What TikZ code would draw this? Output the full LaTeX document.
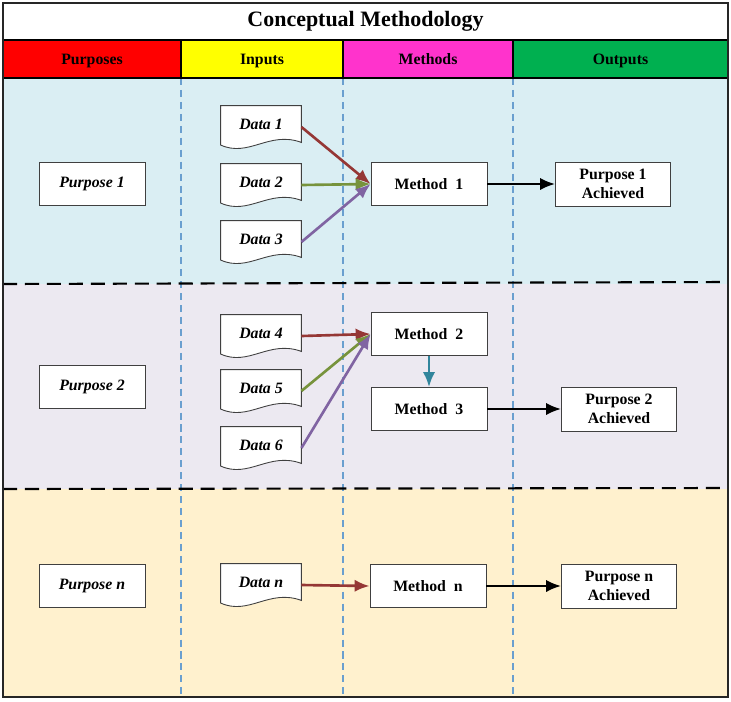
\documentclass[tikz,border=0pt]{standalone}
\usepackage{fontspec}
\setmainfont{Liberation Serif}
\usetikzlibrary{arrows.meta}

\definecolor{hdrred}{HTML}{FF0000}
\definecolor{hdryellow}{HTML}{FFFF00}
\definecolor{hdrpink}{HTML}{FF33CC}
\definecolor{hdrgreen}{HTML}{00B050}
\definecolor{bandblue}{HTML}{DAEEF3}
\definecolor{bandlilac}{HTML}{ECE9F1}
\definecolor{bandsand}{HTML}{FFF1CE}
\definecolor{arrbrown}{HTML}{953735}
\definecolor{arrgreen}{HTML}{77933C}
\definecolor{arrpurple}{HTML}{8064A2}
\definecolor{arrteal}{HTML}{31859C}
\definecolor{colline}{HTML}{6A9FCF}

\makeatletter
\pgfdeclareshape{datadoc}{%
  \inheritsavedanchors[from=rectangle]
  \inheritanchorborder[from=rectangle]
  \inheritanchor[from=rectangle]{center}
  \inheritanchor[from=rectangle]{north}
  \inheritanchor[from=rectangle]{south}
  \inheritanchor[from=rectangle]{east}
  \inheritanchor[from=rectangle]{west}
  \inheritanchor[from=rectangle]{north east}
  \inheritanchor[from=rectangle]{north west}
  \inheritanchor[from=rectangle]{south east}
  \inheritanchor[from=rectangle]{south west}
  \inheritanchor[from=rectangle]{mid}
  \inheritanchor[from=rectangle]{base}
  \inheritanchor[from=rectangle]{text}
  \backgroundpath{%
    \southwest \pgf@xa=\pgf@x \pgf@ya=\pgf@y
    \northeast \pgf@xb=\pgf@x \pgf@yb=\pgf@y
    \edef\dd@l{\the\pgf@xa}\edef\dd@r{\the\pgf@xb}%
    \edef\dd@b{\the\pgf@ya}\edef\dd@t{\the\pgf@yb}%
    \pgfmathsetlengthmacro\dd@h{\dd@t-\dd@b}%
    \pgfmathsetlengthmacro\dd@w{\dd@r-\dd@l}%
    \pgfmathsetlengthmacro\dd@xa{\dd@l+0.6*\dd@w}%
    \pgfmathsetlengthmacro\dd@xb{\dd@l+0.35*\dd@w}%
    \pgfmathsetlengthmacro\dd@yr{\dd@t-0.86*\dd@h}%
    \pgfmathsetlengthmacro\dd@ya{\dd@t-0.58*\dd@h}%
    \pgfmathsetlengthmacro\dd@yb{\dd@t-1.22*\dd@h}%
    \pgfmathsetlengthmacro\dd@yl{\dd@t-0.92*\dd@h}%
    \pgfpathmoveto{\pgfqpoint{\dd@l}{\dd@t}}%
    \pgfpathlineto{\pgfqpoint{\dd@r}{\dd@t}}%
    \pgfpathlineto{\pgfqpoint{\dd@r}{\dd@yr}}%
    \pgfpathcurveto{\pgfqpoint{\dd@xa}{\dd@ya}}{\pgfqpoint{\dd@xb}{\dd@yb}}{\pgfqpoint{\dd@l}{\dd@yl}}%
    \pgfpathclose
  }%
}
\makeatother

\newcommand{\boxfont}{\fontsize{9}{10.5}\selectfont\bfseries}

\begin{document}
\begin{tikzpicture}[x=0.02cm,y=-0.02cm,
    box/.style={draw=black!75,fill=white,line width=0.5pt,minimum height=0.86cm,inner sep=1pt,font=\boxfont},
    purp/.style={box,minimum width=2.12cm,font=\boxfont\itshape},
    meth/.style={box,minimum width=2.32cm},
    done/.style={box,minimum width=2.3cm,minimum height=0.88cm,align=center},
    doc/.style={shape=datadoc,draw=black!75,fill=white,line width=0.5pt,minimum width=1.6cm,minimum height=0.84cm,inner sep=0pt,text depth=3.5pt,font=\boxfont\itshape},
    hdr/.style={draw=black,line width=0.6pt,inner sep=0pt,font=\boxfont},
    flow/.style={-{Latex[length=8.5pt,width=7pt]},line width=1.5pt},
    sep/.style={line width=1.2pt,dash pattern=on 8pt off 4.5pt},
    colsep/.style={colline,line width=0.6pt,dash pattern=on 4pt off 2.8pt}]
    \useasboundingbox (0,0) rectangle (731,701);

    \fill[bandblue] (3,78) rectangle (728,284);
    \fill[bandlilac] (3,284) rectangle (728,489);
    \fill[bandsand] (3,489) rectangle (728,697);
    \foreach \x in {181,343,513}
        \draw[colsep] (\x,78) -- (\x,697);
    \draw[sep] (3,284) -- (728,282);
    \draw[sep] (3,489) -- (728,488);

    \node[hdr,minimum width=14.5cm,minimum height=0.74cm,font=\fontsize{12.5}{14}\selectfont\bfseries] (title) at (365.5,21.5) {Conceptual Methodology};
    \foreach \n/\a/\b/\c/\t in {pu/3/181/hdrred/Purposes,in/181/343/hdryellow/Inputs,me/343/513/hdrpink/Methods,ou/513/728/hdrgreen/Outputs}
        \node[hdr,fill=\c,minimum width=(\b-\a)*0.02cm,minimum height=0.76cm,text depth=0pt] (\n) at ({(\a+\b)/2},59) {\t};
    \draw[line width=1pt,black!85] (3,3) rectangle (728,697);

    \node[purp] (p1) at (92,184) {Purpose 1};
    \node[purp] (p2) at (92,387) {Purpose 2};
    \node[purp] (pn) at (92,586) {Purpose \textit{n}};

    \foreach \i/\y in {1/127,2/185,3/242,4/336,5/391,6/448}
        \node[doc] (d\i) at (261,\y) {Data \i};
    \node[doc] (dn) at (261,585) {Data \textit{n}};

    \node[meth] (m1) at (429,184) {Method\ \ 1};
    \node[meth] (m2) at (429,334) {Method\ \ 2};
    \node[meth] (m3) at (429,409) {Method\ \ 3};
    \node[meth] (mn) at (428,586) {Method\ \ n};

    \node[done] (a1) at (613,184) {Purpose 1\\Achieved};
    \node[done] (a2) at (619,409) {Purpose 2\\Achieved};
    \node[done] (an) at (619,586) {Purpose n\\Achieved};

    \foreach \i/\c in {1/arrbrown,2/arrgreen,3/arrpurple}
        \draw[flow,\c] (d\i.east) -- (m1.west);
    \foreach \i/\c in {4/arrbrown,5/arrgreen,6/arrpurple}
        \draw[flow,\c] (d\i.east) -- (m2.west);
    \draw[flow,arrbrown] (dn.east) -- (mn.west);
    \draw[flow,arrteal] (m2.south) -- (m3.north);
    \foreach \m/\a in {m1/a1,m3/a2,mn/an}
        \draw[flow,black,line width=1.3pt] (\m.east) -- (\a.west);
\end{tikzpicture}
\end{document}
